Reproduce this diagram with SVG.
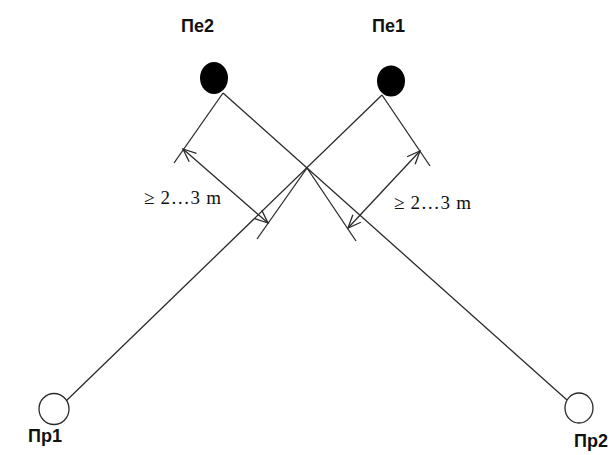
<svg xmlns="http://www.w3.org/2000/svg" width="611" height="455" viewBox="0 0 611 455">
<style>
.ln{stroke:#2a2a2a;stroke-width:1.3;fill:none}
.lbl{font-family:"Liberation Sans",Arial,sans-serif;font-weight:bold;font-size:18px;fill:#111}
.dim{font-family:"Liberation Serif","Times New Roman",serif;font-size:19px;fill:#111}
.open{fill:#fff;stroke:#2a2a2a;stroke-width:1.3}
</style>
<defs>
<marker id="arr" viewBox="-14 -7 16 14" refX="0" refY="0" markerWidth="16" markerHeight="14" markerUnits="userSpaceOnUse" orient="auto-start-reverse">
<path d="M -13 -5.5 L 0 0 L -13 5.5" fill="none" stroke="#2a2a2a" stroke-width="1.3"/>
</marker>
</defs>
<rect width="611" height="455" fill="#fff"/>
<g id="connectors">
<line class="ln" x1="223" y1="93" x2="567" y2="400"/>
<line class="ln" x1="382" y1="95" x2="65" y2="402"/>
<line class="ln" x1="223" y1="93" x2="174" y2="163"/>
<line class="ln" x1="382" y1="95" x2="430" y2="166"/>
<line class="ln" x1="307" y1="168" x2="257" y2="239"/>
<line class="ln" x1="307" y1="168" x2="356" y2="241"/>
<line class="ln" x1="183" y1="149" x2="268" y2="223" marker-start="url(#arr)" marker-end="url(#arr)"/>
<line class="ln" x1="420" y1="151" x2="348" y2="228" marker-start="url(#arr)" marker-end="url(#arr)"/>
</g>
<g id="dim-left"><text class="dim" x="144" y="204" textLength="77" lengthAdjust="spacing">≥ 2…3 m</text></g>
<g id="dim-right"><text class="dim" x="394" y="209" textLength="77" lengthAdjust="spacing">≥ 2…3 m</text></g>
<g id="Pe2">
<ellipse cx="214" cy="78" rx="14" ry="16" fill="#000"/>
<text class="lbl" x="181" y="32">Пе2</text>
</g>
<g id="Pe1">
<ellipse cx="391" cy="81" rx="14" ry="15.5" fill="#000"/>
<text class="lbl" x="372" y="32">Пе1</text>
</g>
<g id="Pr1">
<ellipse class="open" cx="54" cy="409" rx="15" ry="15.5"/>
<text class="lbl" x="28" y="442">Пр1</text>
</g>
<g id="Pr2">
<ellipse class="open" cx="579" cy="408" rx="14" ry="15"/>
<text class="lbl" x="574" y="447">Пр2</text>
</g>
</svg>
